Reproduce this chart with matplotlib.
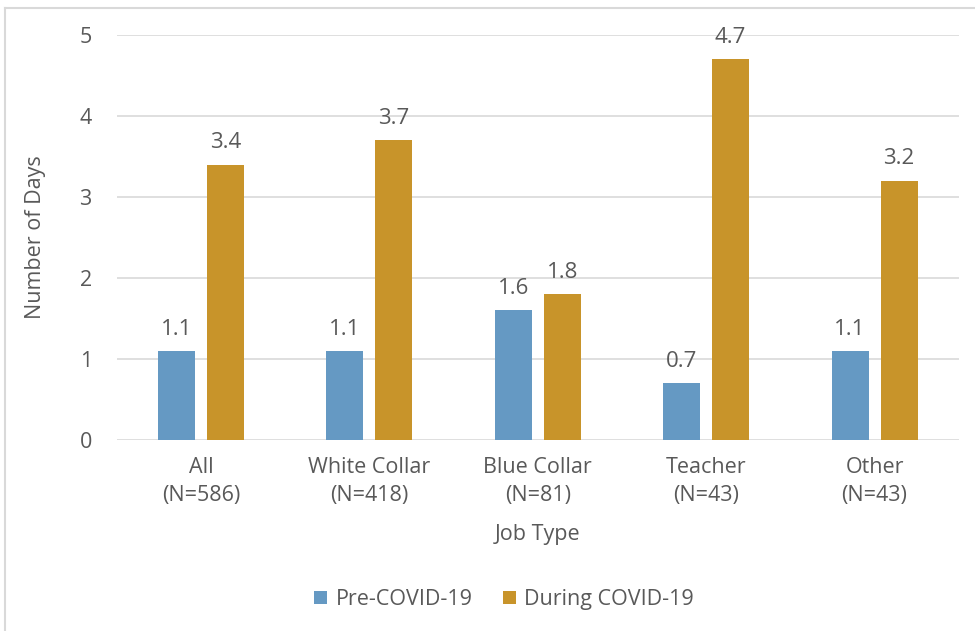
import matplotlib.pyplot as plt
import matplotlib.lines as mlines
import numpy as np

plt.rcParams['font.family'] = ['Open Sans', 'DejaVu Sans']

categories = ['All\n(N=586)', 'White Collar\n(N=418)', 'Blue Collar\n(N=81)',
              'Teacher\n(N=43)', 'Other\n(N=43)']
pre_covid = [1.1, 1.1, 1.6, 0.7, 1.1]
during_covid = [3.4, 3.7, 1.8, 4.7, 3.2]
series_names = ['Pre-COVID-19', 'During COVID-19']

blue = '#6599C3'
gold = '#C8942A'
text_col = '#595959'
fs = 15.5

fig = plt.figure(figsize=(9.75, 6.31), dpi=100)
ax = fig.add_axes([0.1198, 0.3027, 0.8635, 0.6418])

x = np.arange(len(categories))
w = 0.22
off = 0.1455
b1 = ax.bar(x - off, pre_covid, w, color=blue, label=series_names[0], zorder=3)
b2 = ax.bar(x + off, during_covid, w, color=gold, label=series_names[1], zorder=3)

for bars in (b1, b2):
    for r in bars:
        ax.text(r.get_x() + r.get_width() / 2, r.get_height() + 0.14,
                f'{r.get_height():.1f}', ha='center', va='bottom',
                fontsize=16, color=text_col)

ax.set_xlim(-0.5, len(categories) - 0.5)
ax.set_ylim(0, 5)
ax.set_yticks(range(0, 6))
ax.set_xticks(x)
ax.set_xticklabels(categories, fontsize=fs, color=text_col, linespacing=1.45)
ax.tick_params(axis='y', labelsize=fs, labelcolor=text_col, length=0, pad=18)
ax.tick_params(axis='x', length=0, pad=12)
ax.grid(axis='y', color='#D9D9D9', linewidth=1.2, zorder=0)
for s in ax.spines.values():
    s.set_visible(False)

ax.set_ylabel('Number of Days', fontsize=fs, color=text_col, labelpad=24)
ax.set_xlabel('Job Type', fontsize=fs, color=text_col, labelpad=13)

fig.legend(loc='center', bbox_to_anchor=(0.517, 0.05), ncol=2, frameon=False,
           fontsize=fs, labelcolor=text_col, handlelength=0.6, handleheight=0.6,
           columnspacing=1.4, handletextpad=0.4)

# chart border (top and left edges visible)
fig.add_artist(mlines.Line2D([5 / 975, 1], [1 - 8 / 631, 1 - 8 / 631], color='#D9D9D9', lw=1.5))
fig.add_artist(mlines.Line2D([5 / 975, 5 / 975], [0, 1 - 8 / 631], color='#D9D9D9', lw=1.5))

fig.savefig('out.png', dpi=100)
